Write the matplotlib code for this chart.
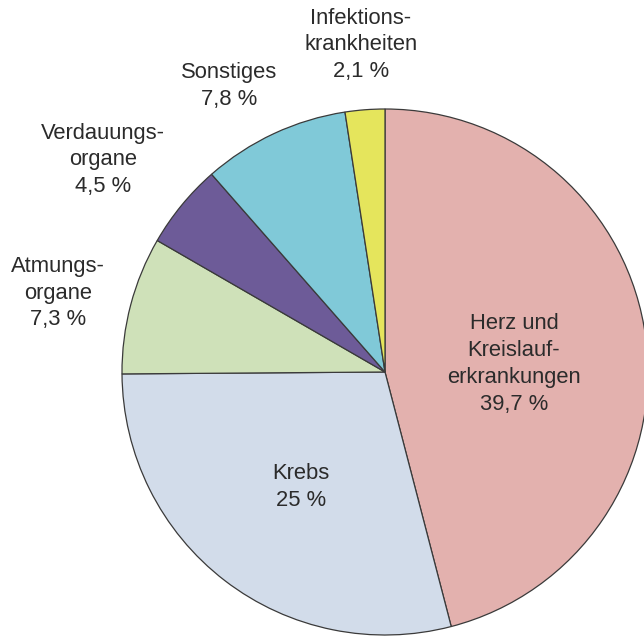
import matplotlib
matplotlib.use('Agg')
import matplotlib.pyplot as plt

# Todesursachen in Prozent
labels = ['Herz und\nKreislauf-\nerkrankungen\n39,7 %', 'Krebs\n25 %', 'Atmungs-\norgane\n7,3 %',
          'Verdauungs-\norgane\n4,5 %', 'Sonstiges\n7,8 %', 'Infektions-\nkrankheiten\n2,1 %']
values = [39.7, 25, 7.3, 4.5, 7.8, 2.1]
colors = ['#e3b1ae', '#d2dcea', '#cfe1b9', '#6d5b98', '#80c9d8', '#e5e55c']

# Beschriftungspositionen (Pixel relativ zum Kreismittelpunkt)
label_pos = [(129, 8), (-84, -115), (-327, 79), (-282, 212), (-156, 286), (-24, 327)]

plt.rcParams['font.family'] = ['Liberation Sans', 'DejaVu Sans']

fig = plt.figure(figsize=(6.44, 6.41), dpi=100)
ax = fig.add_axes([0, 0, 1, 1])

ax.pie(values, colors=colors, startangle=90, counterclock=False, radius=263,
       wedgeprops=dict(edgecolor='#3a3a3a', linewidth=0.9))

for text, (x, y) in zip(labels, label_pos):
    ax.text(x, y, text, ha='center', va='center', fontsize=15.8, color='#2b2b2b',
            linespacing=1.36)

ax.set_xlim(-385, 259)
ax.set_ylim(-269, 372)
ax.set_aspect('equal')
ax.axis('off')

plt.savefig('out.png', dpi=100)
